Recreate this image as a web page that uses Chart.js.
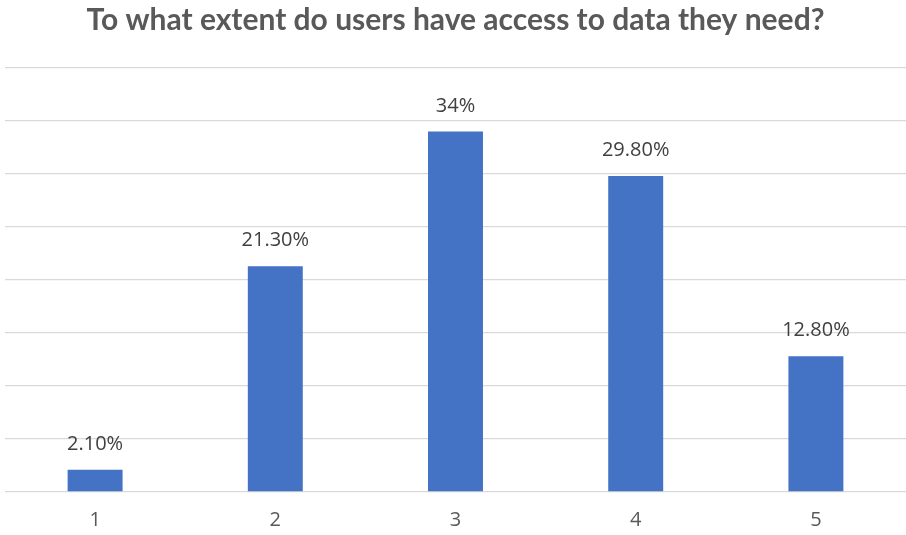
<!DOCTYPE html>
<html lang="en">
  <head>
    <meta charset="UTF-8" />
    <title>Data access</title>
    <style>
      html, body { margin: 0; padding: 0; background: #fff; }
      #wrap { width: 906px; height: 535px; }
    </style>
  </head>
  <body>
    <div id="wrap"><canvas id="myChart"></canvas></div>
    <script src="https://cdn.jsdelivr.net/npm/chart.js@4.4.0/dist/chart.umd.min.js"></script>
    <script>
      const categories = ["1", "2", "3", "4", "5"];
      const values = [2.1, 21.3, 34, 29.8, 12.8];
      const valueLabels = ["2.10%", "21.30%", "34%", "29.80%", "12.80%"];

      // draws the percentage above each bar
      const barLabels = {
        id: "barLabels",
        afterDatasetsDraw(chart) {
          const ctx = chart.ctx;
          const meta = chart.getDatasetMeta(0);
          ctx.save();
          ctx.font = "20px 'Open Sans', sans-serif";
          ctx.fillStyle = "#404040";
          ctx.textAlign = "center";
          ctx.textBaseline = "alphabetic";
          meta.data.forEach((bar, i) => {
            ctx.fillText(valueLabels[i], bar.x, bar.y - 20);
          });
          ctx.restore();
        },
      };

      new Chart("myChart", {
        type: "bar",
        data: {
          labels: categories,
          datasets: [
            {
              data: values,
              backgroundColor: "#4472c4",
              categoryPercentage: 1,
              barPercentage: 0.305,
            },
          ],
        },
        options: {
          responsive: true,
          maintainAspectRatio: false,
          animation: false,
          layout: { padding: { left: 5, right: 0, top: 0, bottom: 0 } },
          plugins: {
            legend: { display: false },
            tooltip: { enabled: false },
            title: {
              display: true,
              text: "To what extent do users have access to data they need?",
              color: "#595959",
              font: { family: "Lato", size: 30, weight: "bold", lineHeight: 1.2 },
              padding: { top: 2, bottom: 30 },
            },
          },
          scales: {
            x: {
              grid: { display: false, drawTicks: false },
              border: { display: false },
              ticks: {
                color: "#595959",
                font: { family: "'Open Sans', sans-serif", size: 20 },
                padding: 16,
              },
              afterFit(scale) {
                scale.height = 43;
              },
            },
            y: {
              min: 0,
              max: 40,
              ticks: { display: false, stepSize: 5 },
              border: { display: false },
              grid: { color: "#d9d9d9", drawTicks: false, lineWidth: 1.3 },
            },
          },
        },
        plugins: [barLabels],
      });
    </script>
  </body>
</html>
